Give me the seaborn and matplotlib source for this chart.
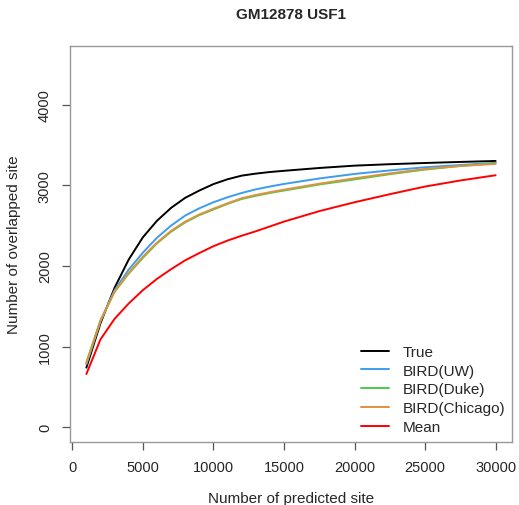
import numpy as np
import pandas as pd
import matplotlib
matplotlib.use("Agg")
import matplotlib.pyplot as plt
import seaborn as sns
from matplotlib.lines import Line2D

# ---- data ----
n_sites = [1000, 2000, 3000, 4000, 5000, 6000, 7000, 8000, 9000, 10000, 11000,
           12000, 13000, 14000, 15000, 17500, 20000, 22500, 25000, 27500, 30000]
true_vals = [740, 1290, 1730, 2080, 2355, 2560, 2720, 2845, 2935, 3015, 3075,
             3120, 3145, 3165, 3180, 3215, 3244, 3262, 3277, 3290, 3302]
uw_vals = [780, 1320, 1700, 1955, 2165, 2350, 2500, 2625, 2715, 2790, 2852,
           2905, 2950, 2985, 3017, 3085, 3141, 3185, 3224, 3252, 3280]
duke_vals = [805, 1325, 1680, 1905, 2100, 2280, 2425, 2540, 2630, 2700, 2770,
             2830, 2870, 2905, 2935, 3010, 3073, 3138, 3195, 3240, 3275]
chicago_vals = [795, 1320, 1685, 1915, 2115, 2290, 2435, 2550, 2638, 2710, 2777,
                2840, 2880, 2915, 2946, 3020, 3087, 3148, 3203, 3240, 3265]
mean_vals = [661, 1090, 1345, 1535, 1700, 1840, 1960, 2070, 2160, 2245, 2315,
             2375, 2430, 2490, 2550, 2680, 2790, 2890, 2985, 3060, 3125]

series_names = ["True", "BIRD(UW)", "BIRD(Duke)", "BIRD(Chicago)", "Mean"]
series_colors = ["#000000", "#3C9CF0", "#4CCB4C", "#E0913F", "#FF0000"]
x_ticks = [0, 5000, 10000, 15000, 20000, 25000, 30000]
y_ticks = [0, 1000, 2000, 3000, 4000]

title = "GM12878 USF1"
x_label = "Number of predicted site"
y_label = "Number of overlapped site"

# ---- build long-form table ----
all_vals = [true_vals, uw_vals, duke_vals, chicago_vals, mean_vals]
frames = []
for name, vals in zip(series_names, all_vals):
    frames.append(pd.DataFrame({"x": n_sites, "y": vals, "series": name}))
df = pd.concat(frames, ignore_index=True)

sns.set_style("white")
plt.rcParams["font.family"] = ["Liberation Sans", "DejaVu Sans"]

fig = plt.figure(figsize=(5.19, 5.06), dpi=100)
ax = fig.add_axes([70 / 519, 1 - 443 / 506, (512 - 70) / 519, (443 - 46.7) / 506])

sns.lineplot(data=df, x="x", y="y", hue="series", hue_order=series_names,
             palette=dict(zip(series_names, series_colors)), linewidth=1.4,
             ax=ax, legend=False, sort=False)

ax.set_xlim(-160, 31160)
ax.set_ylim(-182, 4731)
ax.set_xticks(x_ticks)
ax.set_xticklabels([str(v) for v in x_ticks], fontsize=10.5)
ax.set_yticks(y_ticks)
ax.set_yticklabels([str(v) for v in y_ticks], fontsize=10.5, rotation=90, va="center")
ax.tick_params(axis="both", direction="out", length=6, width=0.9, color="#555555",
               bottom=True, left=True, pad=7)
for sp in ax.spines.values():
    sp.set_color("#999999")
    sp.set_linewidth(1.0)

ax.set_xlabel(x_label, fontsize=11, labelpad=12)
ax.set_ylabel(y_label, fontsize=11, labelpad=12)
fig.text(291 / 519, 1 - 15 / 506, title, fontsize=11, fontweight="bold",
         ha="center", va="center")

handles = [Line2D([0], [0], color=c, lw=1.4) for c in series_colors]
leg = fig.legend(handles, series_names, loc="upper left",
                 bbox_to_anchor=(361 / 519, 1 - 346 / 506),
                 frameon=False, fontsize=11, handlelength=1.85, handletextpad=0.9,
                 labelspacing=0.31, borderpad=0, borderaxespad=0)

fig.savefig("out.png", dpi=100)
